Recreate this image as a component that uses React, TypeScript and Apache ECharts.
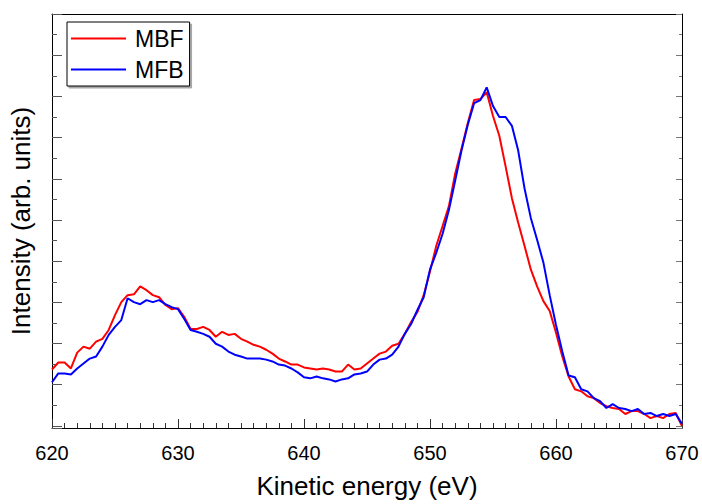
import React, { useEffect, useRef } from "react";
import * as echarts from "echarts";

const energyStart = 620;
const energyStep = 0.5;

const mbf = [
  2.74, 3.08, 3.08, 2.79, 3.56, 3.85, 3.75, 4.09, 4.23, 4.66,
  5.38, 6.01, 6.35, 6.39, 6.78, 6.59, 6.35, 6.25, 5.87, 5.67,
  5.72, 5.29, 4.71, 4.71, 4.81, 4.66, 4.33, 4.57, 4.42, 4.47,
  4.23, 4.09, 3.94, 3.85, 3.70, 3.51, 3.27, 3.13, 2.98, 2.98,
  2.84, 2.79, 2.74, 2.79, 2.74, 2.64, 2.64, 2.98, 2.74, 2.79,
  3.03, 3.27, 3.51, 3.61, 3.89, 3.99, 4.47, 5.05, 5.53, 6.35,
  7.50, 8.75, 9.71, 10.67, 12.26, 13.46, 14.71, 15.82, 15.87, 16.20,
  15.05, 14.09, 12.60, 11.06, 9.86, 8.75, 7.60, 6.78, 6.06, 5.58,
  4.52, 3.37, 2.40, 1.78, 1.68, 1.44, 1.35, 1.11, 0.96, 0.87,
  0.82, 0.58, 0.72, 0.72, 0.58, 0.38, 0.48, 0.38, 0.58, 0.63,
  0.0,
];

const mfb = [
  2.12, 2.55, 2.55, 2.50, 2.79, 3.03, 3.27, 3.37, 3.85, 4.42,
  4.81, 5.14, 6.20, 6.01, 5.91, 6.11, 6.01, 6.11, 5.91, 5.77,
  5.67, 5.19, 4.66, 4.57, 4.47, 4.33, 3.99, 3.85, 3.61, 3.46,
  3.37, 3.27, 3.27, 3.27, 3.22, 3.13, 2.98, 2.93, 2.79, 2.60,
  2.36, 2.31, 2.40, 2.31, 2.26, 2.16, 2.26, 2.31, 2.50, 2.55,
  2.64, 2.98, 3.22, 3.27, 3.46, 3.85, 4.47, 4.95, 5.63, 6.25,
  7.60, 8.41, 9.33, 10.48, 11.92, 13.37, 14.62, 15.67, 15.82, 16.44,
  15.53, 15.00, 15.00, 14.57, 13.37, 11.54, 10.10, 9.04, 7.93, 6.35,
  4.90, 3.61, 2.45, 2.36, 1.78, 1.68, 1.35, 1.20, 0.87, 1.06,
  0.87, 0.82, 0.72, 0.82, 0.58, 0.63, 0.48, 0.58, 0.48, 0.58,
  0.10,
];

const seriesNames = ["MBF", "MFB"];
const seriesColors = ["#ff0000", "#0000ff"];

const toPairs = (vals: number[]) =>
  vals.map((v, i) => [energyStart + i * energyStep, v]);

const FONT = "'Liberation Sans', Arial, sans-serif";

export default function App() {
  const ref = useRef<HTMLDivElement>(null);
  useEffect(() => {
    if (!ref.current) return;
    const chart = echarts.init(ref.current, undefined, { renderer: "svg" });
    const yCommon = {
      type: "value" as const,
      min: -0.1,
      max: 20,
      splitNumber: 10,
      axisLine: { show: true, lineStyle: { color: "#000", width: 1 } },
      axisLabel: { show: false },
      splitLine: { show: false },
    };
    chart.setOption({
      animation: false,
      backgroundColor: "#fff",
      textStyle: { fontFamily: FONT },
      grid: { left: 52, right: 20, top: 14, bottom: 72, containLabel: false },
      legend: {
        orient: "vertical",
        left: 67,
        top: 22,
        padding: [5, 6, 5, 4],
        icon: "rect",
        itemWidth: 55,
        itemHeight: 2,
        itemGap: 8,
        borderColor: "#000",
        borderWidth: 1,
        backgroundColor: "#fff",
        shadowColor: "rgba(0,0,0,0.35)",
        shadowOffsetX: 2,
        shadowOffsetY: 2,
        shadowBlur: 0,
        textStyle: {
          fontSize: 23,
          color: "#000",
          fontFamily: FONT,
          padding: [0, 0, 0, 4],
        },
        data: seriesNames,
      },
      xAxis: [
        {
          type: "value",
          min: 620,
          max: 670,
          interval: 10,
          position: "bottom",
          name: "Kinetic energy (eV)",
          nameLocation: "middle",
          nameGap: 45,
          nameTextStyle: { fontSize: 26, color: "#000", fontFamily: FONT },
          axisLine: { show: true, onZero: false, lineStyle: { color: "#000", width: 1 } },
          axisTick: { show: true, inside: true, length: 9, lineStyle: { color: "#333" } },
          minorTick: { show: true, splitNumber: 10, length: 5, lineStyle: { color: "#333" } },
          axisLabel: { fontSize: 20, color: "#000", margin: 15, fontFamily: FONT },
          splitLine: { show: false },
        },
        {
          type: "value",
          min: 620,
          max: 670,
          position: "top",
          axisLine: { show: true, onZero: false, lineStyle: { color: "#000", width: 1 } },
          axisTick: { show: false },
          axisLabel: { show: false },
          splitLine: { show: false },
        },
      ],
      yAxis: [
        {
          ...yCommon,
          position: "left",
          name: "Intensity (arb. units)",
          nameLocation: "middle",
          nameGap: 18,
          nameTextStyle: { fontSize: 26, color: "#000", fontFamily: FONT },
          axisTick: { show: true, inside: true, length: 10, lineStyle: { color: "#555" } },
          minorTick: { show: true, splitNumber: 2, length: 5, lineStyle: { color: "#555" } },
        },
        {
          ...yCommon,
          position: "right",
          axisTick: { show: true, inside: true, length: 6, lineStyle: { color: "#777" } },
          minorTick: { show: true, splitNumber: 2, length: 3, lineStyle: { color: "#777" } },
        },
      ],
      series: [
        {
          name: seriesNames[0],
          type: "line",
          data: toPairs(mbf),
          symbol: "none",
          showSymbol: false,
          lineStyle: { width: 2, color: seriesColors[0] },
          itemStyle: { color: seriesColors[0] },
        },
        {
          name: seriesNames[1],
          type: "line",
          data: toPairs(mfb),
          symbol: "none",
          showSymbol: false,
          lineStyle: { width: 2, color: seriesColors[1] },
          itemStyle: { color: seriesColors[1] },
        },
      ],
    });
    return () => chart.dispose();
  }, []);
  return (
    <div
      ref={ref}
      style={{ position: "fixed", left: 0, top: 0, width: 702, height: 504 }}
    />
  );
}
